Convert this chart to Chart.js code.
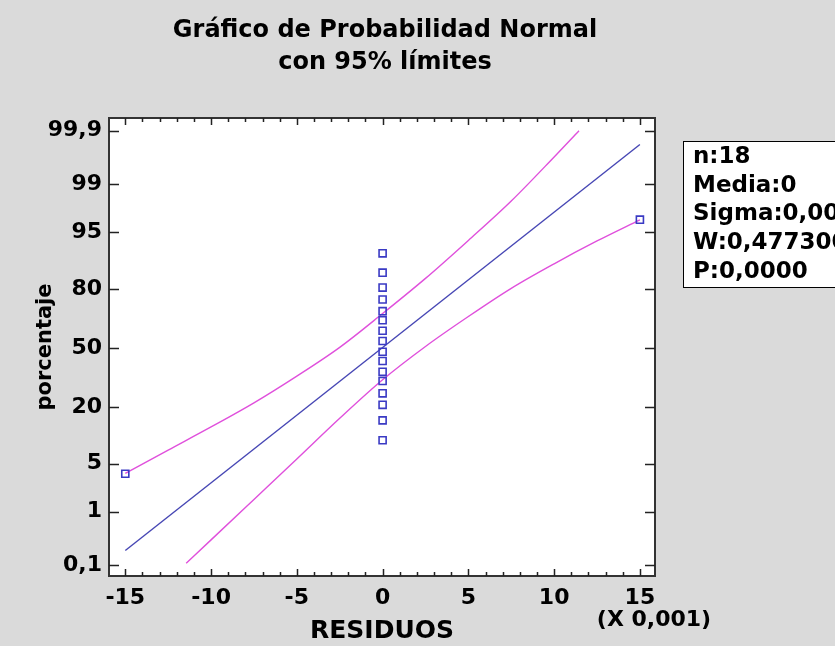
<!DOCTYPE html>
<html>
<head>
<meta charset="utf-8">
<script src="https://cdn.jsdelivr.net/npm/chart.js@4.4.1/dist/chart.umd.min.js"></script>
<style>
html,body{margin:0;padding:0;background:#dadada;}
#wrap{width:835px;height:646px;position:relative;}
</style>
</head>
<body>
<div id="wrap"><canvas id="c" width="835" height="646"></canvas></div>
<script>
// ---- data (residuals in units of 0.001, percentages) ----
const residuos = [-15, 0, 0, 0, 0, 0, 0, 0, 0, 0, 0, 0, 0, 0, 0, 0, 0, 15];
const porcentajes = [3.7, 9.5, 15.2, 21.0, 26.0, 32.0, 36.8, 42.7, 47.9, 54.0, 59.7, 65.4, 70.0, 75.5, 80.5, 85.8, 91.1, 96.6];

const ajusteX = [-15, 15];
const ajustePct = [0.2, 99.81];

const limSupX = [-15, -12.5, -10, -7.5, -5, -2.5, 0, 2.5, 5, 7.5, 10, 11.45];
const limSupPct = [3.75, 7.35, 13.1, 21.8, 34.5, 50.4, 68.8, 83.9, 93.7, 98.17, 99.67, 99.9];

const limInfX = [-11.45, -10, -7.5, -5, -2.5, 0, 2.5, 5, 7.5, 10, 12.5, 15];
const limInfPct = [0.111, 0.32, 1.57, 5.74, 15.9, 32.6, 50.9, 67.3, 80.2, 88.45, 93.6, 96.58];

const xTickValues = [-15, -10, -5, 0, 5, 10, 15];
const yTickPct = [0.1, 1, 5, 20, 50, 80, 95, 99, 99.9];
const yTickLabels = ['0,1', '1', '5', '20', '50', '80', '95', '99', '99,9'];

const titulo = ['Gráfico de Probabilidad Normal', 'con 95% límites'];
const ejeX = 'RESIDUOS';
const ejeY = 'porcentaje';
const escalaX = '(X 0,001)';
const resumen = ['n:18', 'Media:0', 'Sigma:0,00514496', 'W:0,477300', 'P:0,0000'];

// ---- normal probability scale transform (inverse normal CDF) ----
function probit(p) {
  const a = [-3.969683028665376e+01, 2.209460984245205e+02, -2.759285104469687e+02, 1.383577518672690e+02, -3.066479806614716e+01, 2.506628277459239e+00];
  const b = [-5.447609879822406e+01, 1.615858368580409e+02, -1.556989798598866e+02, 6.680131188771972e+01, -1.328068155288572e+01];
  const c = [-7.784894002430293e-03, -3.223964580411365e-01, -2.400758277161838e+00, -2.549732539343734e+00, 4.374664141464968e+00, 2.938163982698783e+00];
  const d = [7.784695709041462e-03, 3.224671290700398e-01, 2.445134137142996e+00, 3.754408661907416e+00];
  const pl = 0.02425, ph = 1 - pl;
  let q, r;
  if (p < pl) {
    q = Math.sqrt(-2 * Math.log(p));
    return (((((c[0]*q+c[1])*q+c[2])*q+c[3])*q+c[4])*q+c[5]) / ((((d[0]*q+d[1])*q+d[2])*q+d[3])*q+1);
  } else if (p <= ph) {
    q = p - 0.5; r = q*q;
    return (((((a[0]*r+a[1])*r+a[2])*r+a[3])*r+a[4])*r+a[5])*q / (((((b[0]*r+b[1])*r+b[2])*r+b[3])*r+b[4])*r+1);
  } else {
    q = Math.sqrt(-2 * Math.log(1 - p));
    return -(((((c[0]*q+c[1])*q+c[2])*q+c[3])*q+c[4])*q+c[5]) / ((((d[0]*q+d[1])*q+d[2])*q+d[3])*q+1);
  }
}
const toPts = (xs, ps) => xs.map((x, i) => ({ x: x, y: probit(ps[i] / 100) }));

const FONT = "'DejaVu Sans', sans-serif";
const BLUE = '#3a3ac4';
const PINK = '#e050dc';

const decor = {
  id: 'decor',
  beforeDraw(chart) {
    const ctx = chart.ctx, a = chart.chartArea;
    ctx.save();
    ctx.fillStyle = '#dadada';
    ctx.fillRect(0, 0, chart.width, chart.height);
    ctx.fillStyle = '#ffffff';
    ctx.fillRect(a.left, a.top, a.right - a.left, a.bottom - a.top);
    ctx.restore();
  },
  afterDraw(chart) {
    const ctx = chart.ctx, a = chart.chartArea;
    const xs = chart.scales.x, ys = chart.scales.y;
    ctx.save();
    // frame
    ctx.strokeStyle = '#333333';
    ctx.lineWidth = 2;
    ctx.strokeRect(a.left, a.top, a.right - a.left, a.bottom - a.top);
    // inward ticks on x (bottom & top)
    ctx.lineWidth = 1.5;
    ctx.strokeStyle = '#222222';
    for (let v = -15; v <= 15; v++) {
      const px = Math.round(xs.getPixelForValue(v)) + 0.5;
      const len = (v % 5 === 0) ? 7 : 4;
      ctx.beginPath();
      ctx.moveTo(px, a.bottom); ctx.lineTo(px, a.bottom - len);
      ctx.moveTo(px, a.top); ctx.lineTo(px, a.top + len);
      ctx.stroke();
    }
    // inward ticks on y (left & right)
    ys.ticks.forEach(t => {
      const py = Math.round(ys.getPixelForValue(t.value)) + 0.5;
      ctx.beginPath();
      ctx.moveTo(a.left, py); ctx.lineTo(a.left + 10, py);
      ctx.moveTo(a.right, py); ctx.lineTo(a.right - 10, py);
      ctx.stroke();
    });
    // texts
    ctx.fillStyle = '#000';
    ctx.textAlign = 'center';
    ctx.textBaseline = 'middle';
    const cx = (a.left + a.right) / 2;
    ctx.font = 'bold 24px ' + FONT;
    ctx.fillText(titulo[0], cx + 3, 31);
    ctx.fillText(titulo[1], cx + 3, 63);
    ctx.font = 'bold 25px ' + FONT;
    ctx.fillText(ejeX, cx, 631);
    ctx.font = 'bold 22px ' + FONT;
    ctx.fillText(escalaX, 654, 620);
    ctx.save();
    ctx.translate(46, (a.top + a.bottom) / 2);
    ctx.rotate(-Math.PI / 2);
    ctx.font = 'bold 21px ' + FONT;
    ctx.fillText(ejeY, 0, 0);
    ctx.restore();
    // summary box
    ctx.fillStyle = '#ffffff';
    ctx.fillRect(683, 141, 200, 147);
    ctx.strokeStyle = '#000';
    ctx.lineWidth = 1;
    ctx.strokeRect(683.5, 141.5, 200, 146);
    ctx.fillStyle = '#000';
    ctx.textAlign = 'left';
    ctx.font = 'bold 23px ' + FONT;
    resumen.forEach((s, i) => ctx.fillText(s, 693, 157 + i * 28.7));
    ctx.restore();
  }
};

Chart.defaults.font.family = FONT;

new Chart(document.getElementById('c'), {
  type: 'scatter',
  data: {
    datasets: [
      {
        label: 'Residuos',
        data: toPts(residuos, porcentajes),
        pointStyle: 'rect',
        pointRadius: 5,
        pointBorderWidth: 1.6,
        pointBorderColor: BLUE,
        pointBackgroundColor: 'rgba(0,0,0,0)',
        showLine: false
      },
      {
        label: 'Ajuste',
        data: toPts(ajusteX, ajustePct),
        showLine: true,
        borderColor: '#4646b4',
        borderWidth: 1.4,
        pointRadius: 0
      },
      {
        label: 'Límite superior',
        data: toPts(limSupX, limSupPct),
        showLine: true,
        borderColor: PINK,
        borderWidth: 1.4,
        pointRadius: 0,
        cubicInterpolationMode: 'monotone'
      },
      {
        label: 'Límite inferior',
        data: toPts(limInfX, limInfPct),
        showLine: true,
        borderColor: PINK,
        borderWidth: 1.4,
        pointRadius: 0,
        cubicInterpolationMode: 'monotone'
      }
    ]
  },
  options: {
    responsive: false,
    animation: false,
    devicePixelRatio: 1,
    layout: { padding: { top: 118, right: 180, bottom: 0, left: 0 } },
    plugins: { legend: { display: false }, tooltip: { enabled: false }, title: { display: false } },
    scales: {
      x: {
        type: 'linear',
        min: -15.95,
        max: 15.88,
        grid: { display: false, drawTicks: false },
        border: { display: false },
        ticks: {
          color: '#000',
          font: { size: 22, weight: 'bold' },
          padding: 9,
          maxRotation: 0,
          autoSkip: false,
          callback: (v) => String(v)
        },
        afterBuildTicks: (s) => { s.ticks = xTickValues.map(v => ({ value: v })); },
        afterFit: (s) => { s.height = 70; }
      },
      y: {
        type: 'linear',
        min: -3.24,
        max: 3.27,
        grid: { display: false, drawTicks: false },
        border: { display: false },
        ticks: {
          color: '#000',
          font: { size: 22, weight: 'bold' },
          padding: 7,
          autoSkip: false,
          callback: (v, i) => yTickLabels[i]
        },
        afterBuildTicks: (s) => { s.ticks = yTickPct.map(p => ({ value: probit(p / 100) })); },
        afterFit: (s) => { s.width = 109; }
      }
    }
  },
  plugins: [decor]
});
</script>
</body>
</html>
